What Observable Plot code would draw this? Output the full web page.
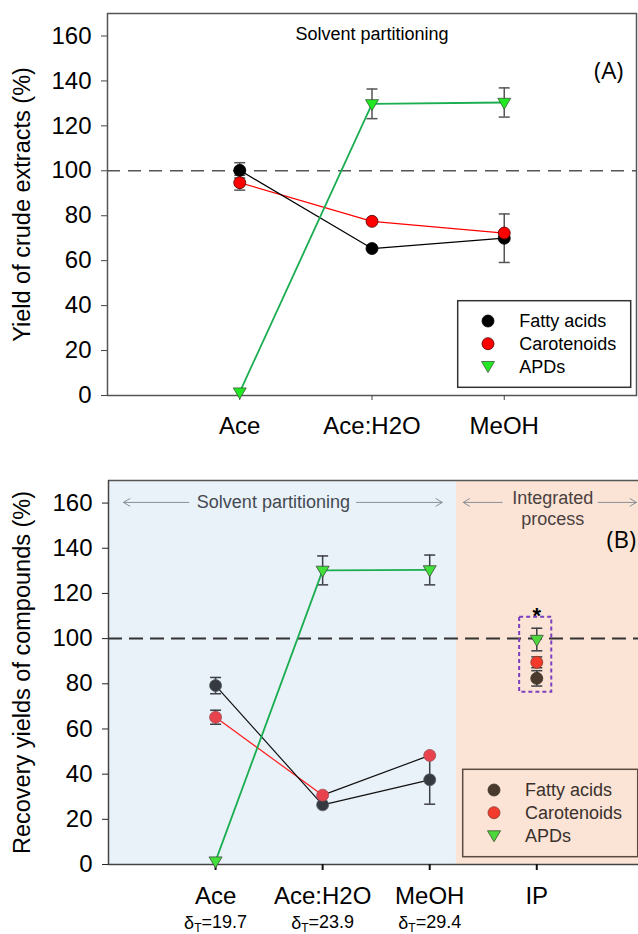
<!DOCTYPE html>
<html><head><meta charset="utf-8">
<script src="https://cdn.jsdelivr.net/npm/d3@7"></script>
<script src="https://cdn.jsdelivr.net/npm/@observablehq/plot@0.6"></script>
<style>body{margin:0;background:#fff;} svg{display:block}</style>
</head><body><div id="chart"></div>
<script>
// ---------- data ----------
const categoriesA = ["Ace", "Ace:H2O", "MeOH"];
const categoriesB = ["Ace", "Ace:H2O", "MeOH", "IP"];
const deltaT = ["19.7", "23.9", "29.4"];
const seriesNames = ["Fatty acids", "Carotenoids", "APDs"];
const yTicks = [0, 20, 40, 60, 80, 100, 120, 140, 160];
const yTitleA = "Yield of crude extracts (%)";
const yTitleB = "Recovery yields of compounds (%)";

// Panel A: yield of crude extracts (%)
const faA = [100.2, 65.4, 70.0];
const faAErr = [3.4, 0, 10.8];
const carA = [94.7, 77.5, 72.3];
const carAErr = [3.3, 0, 0];
const apdA = [1.5, 129.8, 130.4];
const apdAErr = [0, 6.6, 6.5];

// Panel B: recovery yields of compounds (%)
const faB = [79.2, 26.4, 37.5, 82.4];
const faBErr = [3.6, 0, 10.8, 3.4];
const carB = [65.2, 30.7, 48.3, 89.5];
const carBErr = [3.1, 0, 0, 2.4];
const apdB = [1.5, 130.2, 130.4, 99.6];
const apdBErr = [0, 6.4, 6.6, 5.0];

// Panel B annotations (data units)
const regionBounds = [0, 3.25, 4.95];
const ipBox = {x1: 3.84, x2: 4.14, y1: 76.3, y2: 109.5};
const starPos = {x: 4, y: 110};

// ---------- helpers ----------
const rows = (vals, errs) => vals.map((v, i) => ({x: i + 1, y: v, e: errs[i]}));
const capSym = {draw(ctx) { ctx.moveTo(-5.5, 0); ctx.lineTo(5.5, 0); }};
const triSym = {draw(ctx) { ctx.moveTo(-6.5, -4.2); ctx.lineTo(6.5, -4.2); ctx.lineTo(0, 6.8); ctx.closePath(); }};
const FONT = "'Liberation Sans', Arial, Helvetica, sans-serif";

function errMarks(data, color) {
  const d = data.filter(r => r.e > 0);
  return [
    Plot.ruleX(d, {x: "x", y1: r => r.y - r.e, y2: r => r.y + r.e, stroke: color, strokeWidth: 1.5}),
    Plot.dot(d, {x: "x", y: r => r.y - r.e, symbol: capSym, r: 5, fill: "none", stroke: color, strokeWidth: 1.5}),
    Plot.dot(d, {x: "x", y: r => r.y + r.e, symbol: capSym, r: 5, fill: "none", stroke: color, strokeWidth: 1.5})
  ];
}

function addLegend(svg, box, rowsY, markerX, textX, colors, textColor, borderColor) {
  const g = d3.select(svg).append("g").attr("text-anchor", "start");
  g.append("rect").attr("x", box[0]).attr("y", box[1]).attr("width", box[2]).attr("height", box[3])
    .attr("fill", "none").attr("stroke", borderColor).attr("stroke-width", 1.5);
  seriesNames.forEach((name, i) => {
    const y = rowsY[i];
    if (i < 2) {
      g.append("circle").attr("cx", markerX).attr("cy", y).attr("r", 6)
        .attr("fill", colors[i].fill).attr("stroke", colors[i].stroke).attr("stroke-width", 0.8);
    } else {
      g.append("path").attr("transform", `translate(${markerX},${y - 1})`)
        .attr("d", "M-6.5,-4.2L6.5,-4.2L0,6.8Z")
        .attr("fill", colors[i].fill).attr("stroke", colors[i].stroke).attr("stroke-width", 0.8);
    }
    g.append("text").attr("x", textX).attr("y", y).attr("dy", "0.36em").attr("text-anchor", "start")
      .attr("font-family", FONT).attr("font-size", 18).attr("fill", textColor).text(name);
  });
}

const yTickStrs = yTicks.map(String);
function fixFonts(svg) {
  d3.select(svg).selectAll("text").each(function() {
    const t = this.textContent;
    if (yTickStrs.includes(t)) d3.select(this).attr("font-size", 24).style("font-size", "24px");
    if (t === yTitleA || t === yTitleB) d3.select(this).attr("font-size", 23.5).style("font-size", "23.5px");
  });
}

// ---------- Panel A ----------
const fa_A = rows(faA, faAErr), car_A = rows(carA, carAErr), apd_A = rows(apdA, apdAErr);
const colA = [
  {fill: "#000000", stroke: "#000000"},
  {fill: "#ff0000", stroke: "#4a0000"},
  {fill: "#22e822", stroke: "#3a5a3a"}
];
const plotA = Plot.plot({
  width: 638, height: 460,
  marginLeft: 107, marginRight: 2, marginTop: 13, marginBottom: 65,
  x: {domain: [0, 4]},
  y: {domain: [0, 170]},
  style: {fontFamily: FONT, background: "white", color: "black"},
  marks: [
    Plot.ruleY([100], {stroke: "#555", strokeWidth: 1.5, strokeDasharray: "13,8"}),
    Plot.frame({stroke: "#555", strokeWidth: 1.5}),
    Plot.axisY({ticks: yTicks, tickSize: 6, tickPadding: 10, fontSize: 24, stroke: "#444",
      label: yTitleA, labelAnchor: "center", labelOffset: 94, labelArrow: "none"}),
    Plot.axisX({ticks: [1, 2, 3], tickFormat: i => categoriesA[i - 1], tickSize: 5, tickPadding: 16,
      fontSize: 24, stroke: "#444", label: null}),
    Plot.text(["Solvent partitioning"], {x: 2, y: 160.9, text: d => d, fontSize: 18, fill: "black"}),
    Plot.text(["(A)"], {x: 3.79, y: 144.4, text: d => d, fontSize: 24, fontFamily: "'Open Sans', sans-serif", fill: "black"}),
    ...errMarks(fa_A, "#555"),
    ...errMarks(car_A, "#555"),
    ...errMarks(apd_A, "#555"),
    Plot.line(car_A, {x: "x", y: "y", stroke: "#ff0000", strokeWidth: 1.2}),
    Plot.line(fa_A, {x: "x", y: "y", stroke: "#000", strokeWidth: 1.2}),
    Plot.line(apd_A, {x: "x", y: "y", stroke: "#1aae50", strokeWidth: 1.8}),
    Plot.dot(fa_A, {x: "x", y: "y", r: 6, fill: colA[0].fill, stroke: colA[0].stroke, strokeWidth: 0.8}),
    Plot.dot(car_A, {x: "x", y: "y", r: 6, fill: colA[1].fill, stroke: colA[1].stroke, strokeWidth: 0.8}),
    Plot.dot(apd_A, {x: "x", y: "y", r: 6, symbol: triSym, fill: colA[2].fill, stroke: colA[2].stroke, strokeWidth: 0.8})
  ]
});
fixFonts(plotA);
addLegend(plotA, [457.7, 300.7, 173, 86.6], [321, 343.7, 366.7], 488, 519.3, colA, "#000", "#333");

// ---------- Panel B ----------
const fa_B = rows(faB, faBErr), car_B = rows(carB, carBErr), apd_B = rows(apdB, apdBErr);
const inBlue = d => d.x < regionBounds[1];
const regions = [
  {x1: regionBounds[0], x2: regionBounds[1], fill: "#e9f1f9"},
  {x1: regionBounds[1], x2: regionBounds[2], fill: "#fbe4d5"}
];
const colB = [
  {fill: "#4a3a2e", stroke: "#3a2e26"},
  {fill: "#f33b2b", stroke: "#8a3a30"},
  {fill: "#4cd83a", stroke: "#3a4a30"}
];
const plotB = Plot.plot({
  width: 638, height: 474,
  marginLeft: 108, marginRight: 0, marginTop: 20, marginBottom: 70,
  x: {domain: [0, 4.95]},
  y: {domain: [0, 170]},
  style: {fontFamily: FONT, background: "white", color: "black"},
  marks: [
    Plot.rect(regions, {x1: "x1", x2: "x2", y1: 0, y2: 170, fill: "fill"}),
    Plot.ruleY([100], {stroke: "#333", strokeWidth: 2, strokeDasharray: "14,7"}),
    Plot.ruleY([170], {stroke: "#555", strokeWidth: 1.5}),
    Plot.ruleY([0], {stroke: "#444", strokeWidth: 1.5}),
    Plot.ruleX([0], {stroke: "#444", strokeWidth: 1.5}),
    Plot.axisY({ticks: yTicks, tickSize: 6, tickPadding: 10, fontSize: 24, stroke: "#222",
      label: yTitleB, labelAnchor: "center", labelOffset: 95, labelArrow: "none"}),
    Plot.axisX({ticks: [1, 2, 3, 4], tickFormat: i => categoriesB[i - 1], tickSize: 6, tickPadding: 16,
      fontSize: 24, stroke: "#111", strokeWidth: 2, label: null}),
    Plot.axisX({ticks: [1, 2, 3], tickFormat: i => "δT=" + deltaT[i - 1], tickSize: 0, tickPadding: 52,
      fontSize: 18, label: null}),
    // annotations
    Plot.arrow([{x1: 0.75, x2: 0.14}, {x1: 2.316, x2: 3.117}, {x1: 3.677, x2: 3.313}, {x1: 4.573, x2: 4.93}],
      {x1: "x1", x2: "x2", y1: 160.3, y2: 160.3, stroke: "#8a8f96", strokeWidth: 1, headLength: 11, headAngle: 62}),
    Plot.text(["Solvent partitioning"], {x: 1.54, y: 160.3, text: d => d, fontSize: 18, fill: "#444a52"}),
    Plot.text(["Integrated\nprocess"], {x: 4.15, y: 158, text: d => d, fontSize: 18, lineHeight: 1.15, fill: "#4a4040"}),
    Plot.text(["(B)"], {x: 4.79, y: 143.5, text: d => d, fontSize: 24, fontFamily: "'Open Sans', sans-serif", fill: "black"}),
    Plot.rect([ipBox], {x1: "x1", x2: "x2", y1: "y1", y2: "y2", fill: "none", stroke: "#7b3fc0", strokeWidth: 2, strokeDasharray: "4,3"}),
    Plot.text(["*"], {x: starPos.x, y: starPos.y, text: d => d, fontSize: 22, fontWeight: "bold", fill: "black"}),
    // error bars
    ...errMarks(fa_B, "#3c3f44"),
    ...errMarks(car_B, "#3c3f44"),
    ...errMarks(apd_B, "#3c3f44"),
    // lines (solvent partitioning only)
    Plot.line(car_B.slice(0, 2), {x: "x", y: "y", stroke: "#ff1a1a", strokeWidth: 1.2}),
    Plot.line(car_B.slice(1, 3), {x: "x", y: "y", stroke: "#111", strokeWidth: 1.2}),
    Plot.line(fa_B.slice(0, 3), {x: "x", y: "y", stroke: "#111", strokeWidth: 1.2}),
    Plot.line(apd_B.slice(0, 3), {x: "x", y: "y", stroke: "#1aae50", strokeWidth: 1.8}),
    // markers
    Plot.dot(fa_B, {x: "x", y: "y", r: 6, fill: d => inBlue(d) ? "#353a41" : colB[0].fill, stroke: d => inBlue(d) ? "#5a6068" : colB[0].stroke, strokeWidth: 0.8}),
    Plot.dot(car_B, {x: "x", y: "y", r: 6, fill: d => inBlue(d) ? "#e8434d" : colB[1].fill, stroke: d => inBlue(d) ? "#a05058" : colB[1].stroke, strokeWidth: 0.8}),
    Plot.dot(apd_B, {x: "x", y: "y", r: 6, symbol: triSym, fill: d => inBlue(d) ? "#42e03a" : colB[2].fill, stroke: "#3a4a3a", strokeWidth: 0.8})
  ]
});
fixFonts(plotB);
addLegend(plotB, [462.7, 309.3, 175, 87.4], [330, 352.7, 376], 494, 525, colB, "#3a302c", "#5a4a40");

// subscript T in δT labels
d3.select(plotB).selectAll("text").each(function() {
  const t = this.textContent;
  if (t.startsWith("δT=") && this.childElementCount === 0) {
    const sel = d3.select(this);
    sel.text(null);
    sel.append("tspan").text("δ");
    sel.append("tspan").attr("dy", "0.22em").attr("font-size", 12).text("T");
    sel.append("tspan").attr("dy", "-0.22em").text(t.slice(2));
  }
});

document.getElementById("chart").append(plotA, plotB);
</script>
</body></html>
